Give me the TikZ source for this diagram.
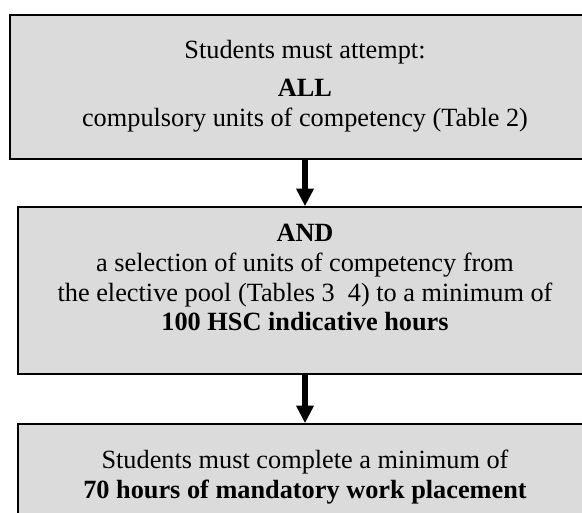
\documentclass[tikz,border=0pt]{standalone}
\usepackage{fontspec}
\setmainfont{Liberation Serif}
\usetikzlibrary{arrows.meta}
\definecolor{boxgray}{RGB}{219,219,219}
\tikzset{
  box/.style={draw=black, fill=boxgray, line width=2.5pt, rectangle, inner sep=0pt},
  txt/.style={anchor=base, inner sep=0pt, font=\fontsize{26.3pt}{30pt}\selectfont},
  flow/.style={line width=6.5pt, -{Triangle[width=18pt,length=17pt,line width=0pt]}}
}
\begin{document}
\begin{tikzpicture}[x=1pt,y=-1pt]
\useasboundingbox (0,0) rectangle (582,513);
\clip (0,0) rectangle (582,513);
\node[box, minimum width=590pt, minimum height=144pt] (b1) at (305,87) {};
\node[box, minimum width=574pt, minimum height=167pt] (b2) at (305,290.5) {};
\node[box, minimum width=574pt, minimum height=110pt] (b3) at (305,479) {};
\draw[flow] (b1.south) -- (b2.north);
\draw[flow] (b2.south) -- (b3.north);
\node[txt] (t1) at (305,59) {Students must attempt:};
\node[txt] (t2) at (305,97) {\textbf{ALL}};
\node[txt] (t3) at (305,127) {compulsory units of competency (Table 2)};
\node[txt] (t4) at (305,242) {\textbf{AND}};
\node[txt] (t5) at (305,272) {a selection of units of competency from};
\node[txt] (t6) at (305,302) {the elective pool (Tables 3\ \ 4) to a minimum of};
\node[txt] (t7) at (305,331) {\textbf{100 HSC indicative hours}};
\node[txt] (t8) at (305,469) {Students must complete a minimum of};
\node[txt] (t9) at (305,499) {\textbf{70 hours of mandatory work placement}};
\end{tikzpicture}
\end{document}
